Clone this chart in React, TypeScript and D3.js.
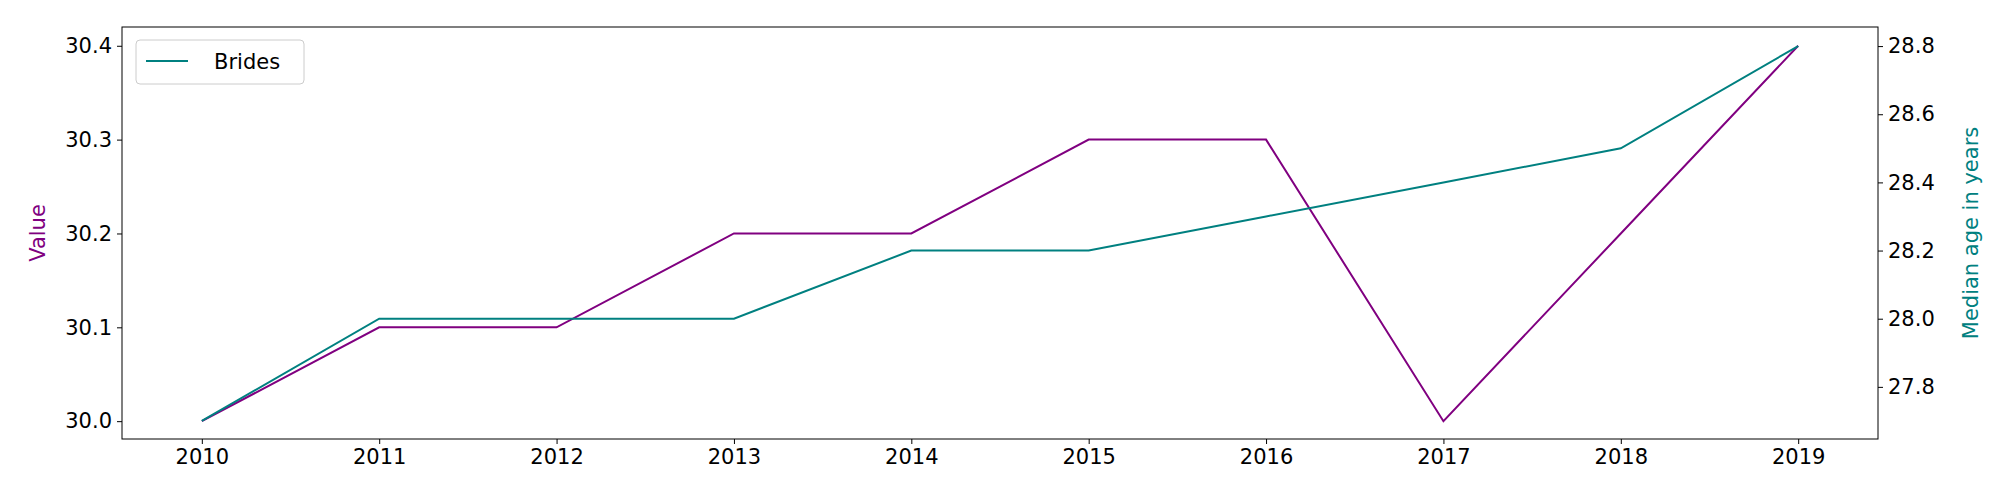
import React, { useEffect, useRef } from "react";
import * as d3 from "d3";

const years = [2010, 2011, 2012, 2013, 2014, 2015, 2016, 2017, 2018, 2019];
const valueSeries = [30.0, 30.1, 30.1, 30.2, 30.2, 30.3, 30.3, 30.0, 30.2, 30.4];
const bridesSeries = [27.7, 28.0, 28.0, 28.0, 28.2, 28.2, 28.3, 28.4, 28.5, 28.8];
const leftTicks = [30.0, 30.1, 30.2, 30.3, 30.4];
const rightTicks = [27.8, 28.0, 28.2, 28.4, 28.6, 28.8];

const App: React.FC = () => {
  const ref = useRef<SVGSVGElement>(null);

  useEffect(() => {
    if (!ref.current) return;
    const svg = d3.select(ref.current);
    svg.selectAll("*").remove();

    const left = 122, right = 1878, top = 27, bottom = 439;
    const font = "DejaVu Sans, sans-serif";

    const x = d3.scaleLinear().domain([2009.55, 2019.45]).range([left, right]);
    const yL = d3.scaleLinear().domain([29.981, 30.42]).range([bottom, top]);
    const yR = d3.scaleLinear().domain([27.647, 28.856]).range([bottom, top]);

    const styleAxis = (g: d3.Selection<SVGGElement, unknown, null, undefined>) => {
      g.selectAll(".domain").remove();
      g.selectAll("text").attr("font-size", 21).attr("font-family", font).attr("fill", "#000");
      g.selectAll("line").attr("stroke", "#000").attr("stroke-width", 1);
    };

    svg.append("g").attr("transform", `translate(0,${bottom})`)
      .call(d3.axisBottom(x).tickValues(years).tickFormat(d3.format("d")).tickSize(5).tickPadding(5))
      .call(styleAxis);
    svg.append("g").attr("transform", `translate(${left},0)`)
      .call(d3.axisLeft(yL).tickValues(leftTicks).tickFormat(d3.format(".1f")).tickSize(5).tickPadding(5))
      .call(styleAxis);
    svg.append("g").attr("transform", `translate(${right},0)`)
      .call(d3.axisRight(yR).tickValues(rightTicks).tickFormat(d3.format(".1f")).tickSize(5).tickPadding(5))
      .call(styleAxis);

    svg.append("rect").attr("x", left).attr("y", top).attr("width", right - left).attr("height", bottom - top)
      .attr("fill", "none").attr("stroke", "#000").attr("stroke-width", 1);

    const lineL = d3.line<number>().x((_, i) => x(years[i])).y((d) => yL(d));
    const lineR = d3.line<number>().x((_, i) => x(years[i])).y((d) => yR(d));
    svg.append("path").datum(valueSeries).attr("d", lineL).attr("fill", "none").attr("stroke", "purple").attr("stroke-width", 2);
    svg.append("path").datum(bridesSeries).attr("d", lineR).attr("fill", "none").attr("stroke", "teal").attr("stroke-width", 2);

    svg.append("text").attr("transform", `translate(45,${(top + bottom) / 2}) rotate(-90)`)
      .attr("text-anchor", "middle").attr("font-size", 21).attr("font-family", font).attr("fill", "purple").text("Value");
    svg.append("text").attr("transform", `translate(1978,${(top + bottom) / 2}) rotate(-90)`)
      .attr("text-anchor", "middle").attr("font-size", 21).attr("font-family", font).attr("fill", "teal").text("Median age in years");

    const lg = svg.append("g").attr("transform", "translate(136,40)");
    lg.append("rect").attr("width", 168).attr("height", 44).attr("rx", 4).attr("fill", "#fff").attr("stroke", "#ccc");
    lg.append("line").attr("x1", 10).attr("x2", 52).attr("y1", 21).attr("y2", 21).attr("stroke", "teal").attr("stroke-width", 2);
    lg.append("text").attr("x", 78).attr("y", 29).attr("font-size", 21).attr("font-family", font).text("Brides");
  }, []);

  return <svg ref={ref} width={2000} height={500} style={{ position: "absolute", left: 0, top: 0, background: "#fff" }} />;
};

export default App;
